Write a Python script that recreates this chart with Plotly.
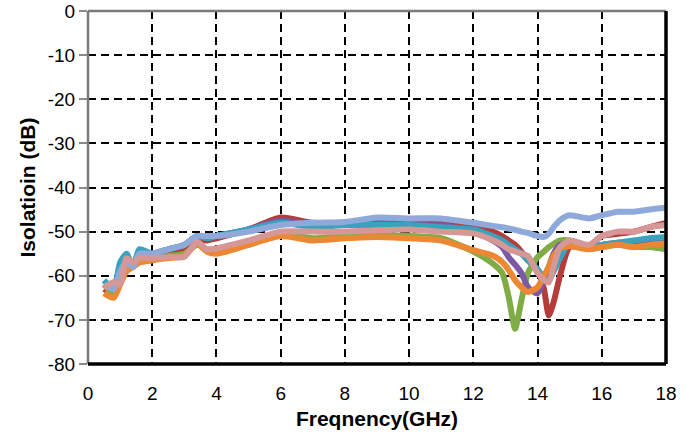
import plotly.graph_objects as go

freq = [0.5, 0.8, 1.0, 1.2, 1.4, 1.6, 2.0, 2.5, 3.0, 3.4, 3.7, 4.0, 5.0, 6.0, 7.0, 8.0, 9.0, 10.0,
        11.0, 12.0, 12.6, 12.9, 13.1, 13.3, 13.5, 13.7, 14.0, 14.2, 14.35, 14.5, 14.7, 15.0, 15.6,
        16.0, 16.5, 17.0, 17.5, 18.0]

red = [-63, -64, -60, -57, -58, -56, -55.5, -55, -54, -52, -52, -51.5, -49.5, -46.8, -48, -48, -47.5, -47.5,
       -47.5, -48.5, -50, -51, -52, -53, -54.6, -56.5, -58.7, -63, -69, -66, -60, -53.5, -53.3,
       -51, -50.5, -50, -49, -48]
green = [-62, -64, -60, -57.5, -58, -56.5, -56, -55.5, -55, -53, -54, -54, -53, -50.5, -51.5, -51, -51, -51,
         -51.5, -54.5, -57.2, -59.4, -64.8, -72, -65.5, -59.4, -55.8, -54.5, -53.5, -52.8, -52, -52, -53.8,
         -53.5, -53, -53.5, -53.5, -54]
purple = [-62, -63, -58, -56, -57.5, -55, -55, -54, -53, -51, -51.5, -51, -49.5, -47.5, -48.5, -48, -48, -48.3,
          -48.5, -50, -52, -53.5, -55.8, -57.5, -59.4, -62.6, -64, -61, -58, -55, -53, -52.5, -53.5,
          -53, -52.5, -52.5, -52, -52]
teal = [-61, -63, -57, -55, -58, -54, -55, -54, -53, -51, -51.5, -51, -49.5, -48, -49, -48.5, -48.5, -48.5,
        -49, -49.5, -51, -52, -53, -54, -55, -56.5, -58.5, -60.5, -61, -59, -56, -52.5, -53.8,
        -53, -52.5, -52, -51.5, -51.2]
orange = [-64, -65, -62, -59, -58, -57, -56.5, -56, -55.5, -52.7, -54.5, -55, -53, -51, -52, -51.5, -51.2, -51.5,
          -52, -54.2, -55.4, -56.9, -58.7, -61, -62.6, -63.7, -62.6, -60, -58, -55.5, -53.8, -53.3, -54,
          -53.5, -53, -53.5, -53, -52.7]
lightblue = [-62, -63, -59, -57, -58, -55, -55, -54, -53, -51, -51, -51, -50, -48.5, -48, -47.8, -46.8, -47,
             -47, -48, -48.7, -49, -49.3, -49.6, -50, -50.3, -51, -51.2, -50.5, -49, -47.4, -46.3, -47,
             -46.3, -45.5, -45.5, -45, -44.6]
pink = [-62.8, -61.4, -62, -56, -57, -56, -56, -55.8, -55.7, -52.3, -54, -53.8, -52, -50, -50, -50, -49.7, -49.5,
        -50, -50.4, -51.9, -53, -54, -54.5, -55, -55.5, -59.4, -61, -61.5, -58, -53.5, -52, -53,
        -51, -50, -50, -49, -48.5]

x_ticks = [0, 2, 4, 6, 8, 10, 12, 14, 16, 18]
y_ticks = [0, -10, -20, -30, -40, -50, -60, -70, -80]

series = [
    ("S2", red, "#B43C3A"),
    ("S3", green, "#80AC47"),
    ("S4", purple, "#7A5AA5"),
    ("S5", teal, "#3AA2BC"),
    ("S6", orange, "#EC8833"),
    ("S1", lightblue, "#8EA9DA"),
    ("S7", pink, "#D69897"),
]

fig = go.Figure()
for name, ys, col in series:
    fig.add_trace(go.Scatter(x=freq, y=ys, mode="lines", name=name,
                             line=dict(color=col, width=6, shape="spline", smoothing=0.6)))

font_family = "Liberation Sans, Arial, sans-serif"
fig.update_layout(
    width=692, height=434,
    margin=dict(l=88, r=26, t=11, b=70),
    paper_bgcolor="white", plot_bgcolor="white",
    showlegend=False,
    font=dict(family=font_family, size=19, color="black"),
    xaxis=dict(range=[0, 18], tickvals=x_ticks, ticktext=[str(v) for v in x_ticks],
               automargin=False,
               showgrid=True, gridcolor="black", gridwidth=1.5, griddash="8px,5px",
               zeroline=False, showline=False, ticks="outside", ticklen=12,
               tickcolor="rgba(0,0,0,0)",
               title=dict(text="<b>Freqnency(GHz)</b>", font=dict(size=21), standoff=8),
               tickfont=dict(size=19)),
    yaxis=dict(range=[-80, 0], tickvals=y_ticks, ticktext=[str(v) for v in y_ticks],
               automargin=False,
               showgrid=True, gridcolor="black", gridwidth=1.5, griddash="8px,5px",
               zeroline=False, showline=False, ticks="outside", ticklen=8, tickcolor="#8a8a8a",
               tickwidth=2,
               title=dict(text="<b>Isolatioin (dB)</b>", font=dict(size=21), standoff=6),
               tickfont=dict(size=19)),
)

# frame: left/top grey, right/bottom black
fig.add_shape(type="line", xref="paper", yref="paper", x0=0, x1=0, y0=0, y1=1,
              line=dict(color="#7a7a7a", width=2.5))
fig.add_shape(type="line", xref="paper", yref="paper", x0=0, x1=1, y0=1, y1=1,
              line=dict(color="#7a7a7a", width=2.5))
fig.add_shape(type="line", xref="paper", yref="paper", x0=1, x1=1, y0=0, y1=1,
              line=dict(color="black", width=3.5))
fig.add_shape(type="line", xref="paper", yref="paper", x0=0, x1=1, y0=0, y1=0,
              line=dict(color="black", width=3.5))

fig.write_html("out.html")
